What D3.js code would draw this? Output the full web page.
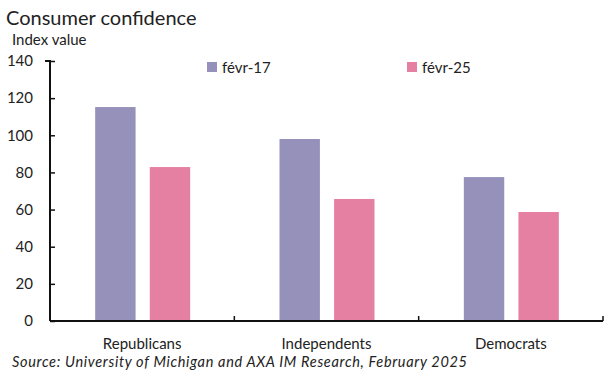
<!DOCTYPE html>
<html><head><meta charset="utf-8">
<script src="https://cdn.jsdelivr.net/npm/d3@7"></script>
<style>body{margin:0;background:#fff}svg{display:block}text{font-family:Lato,"Open Sans",sans-serif;fill:#222}</style>
</head><body><svg id="c" width="615" height="379"></svg>
<script>
const categories = ["Republicans","Independents","Democrats"];
const seriesNames = ["févr-17","févr-25"];
const feb17 = [115.2, 98.0, 77.5];
const feb25 = [82.9, 65.7, 58.7];
const yTicks = [0,20,40,60,80,100,120,140];
const colors = ["#9591bb","#e580a2"];

const svg = d3.select("#c");
const m = {l:50, r:603, t:61, b:321};
const x = d3.scaleBand().domain(categories).range([m.l, m.r]);
const y = d3.scaleLinear().domain([0,140]).range([m.b, m.t]);
const xs = d3.scaleBand().domain(seriesNames).range([0, 95]).paddingInner(0.26);
const data = [feb17, feb25];

// bars
seriesNames.forEach((s,i)=>{
  svg.append("g").selectAll("rect").data(categories).join("rect")
    .attr("x", d => x(d) + x.bandwidth()/2 - 47 + xs(s))
    .attr("width", xs.bandwidth())
    .attr("y", (d,j) => y(data[i][j]))
    .attr("height", (d,j) => y(0) - y(data[i][j]))
    .attr("fill", colors[i]);
});

// y axis
const ya = svg.append("g").attr("transform",`translate(${m.l},0)`)
  .call(d3.axisLeft(y).tickValues(yTicks).tickSize(-5).tickPadding(17));
ya.select(".domain").attr("stroke","#111").attr("stroke-width",2).attr("d",`M-5,${y(140)}H0V${y(0)}`);
ya.selectAll(".tick line").attr("stroke","#111").attr("stroke-width",1.5);
ya.selectAll(".tick text").attr("font-size",15).attr("fill","#222").style("font-family","Lato,sans-serif");

// x axis
const xa = svg.append("g").attr("transform",`translate(0,${m.b})`);
xa.append("line").attr("x1",m.l).attr("x2",m.r).attr("stroke","#111").attr("stroke-width",2);
const bounds = [m.l + x.bandwidth(), m.l + 2*x.bandwidth(), m.r];
xa.selectAll("line.t").data(bounds).join("line").attr("class","t")
  .attr("x1",d=>d).attr("x2",d=>d).attr("y1",0).attr("y2",-5).attr("stroke","#111").attr("stroke-width",1.5);
xa.selectAll("text").data(categories).join("text")
  .attr("x", d => x(d) + x.bandwidth()/2).attr("y", 28)
  .attr("text-anchor","middle").attr("font-size",15).text(d=>d);

// legend
const lg = [{x:207},{x:407}];
seriesNames.forEach((s,i)=>{
  svg.append("rect").attr("x",lg[i].x).attr("y",62).attr("width",10).attr("height",10).attr("fill",colors[i]);
  svg.append("text").attr("x",lg[i].x+15).attr("y",73).attr("font-size",15).text(s);
});

// titles
svg.append("text").attr("x",6).attr("y",25).attr("font-size",20).text("Consumer confidence");
svg.append("text").attr("x",12).attr("y",45).attr("font-size",15).text("Index value");
svg.append("text").attr("x",12).attr("y",367).attr("font-size",14.5).attr("font-style","italic")
  .attr("textLength",455).attr("lengthAdjust","spacing")
  .text("Source: University of Michigan and AXA IM Research, February 2025");
</script></body></html>
